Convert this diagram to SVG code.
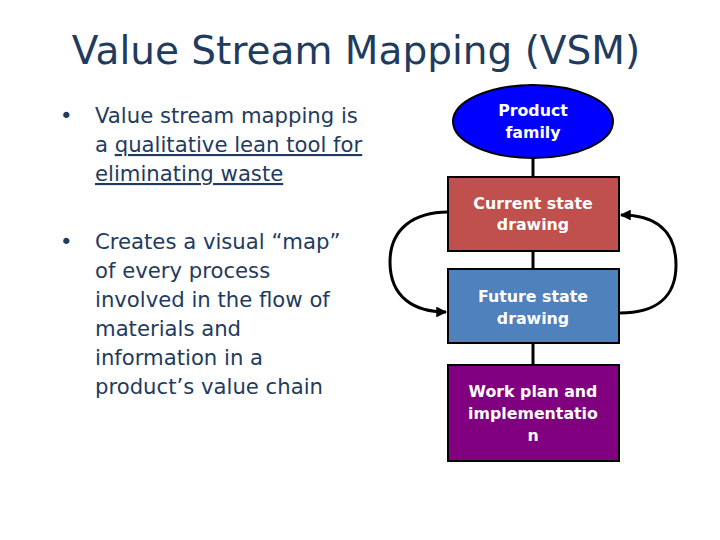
<svg xmlns="http://www.w3.org/2000/svg" width="720" height="540" viewBox="0 0 720 540">
<defs>
<style>
.title{font-family:"DejaVu Sans",Verdana,sans-serif;font-size:39px;fill:#1F3B5E}
.body{font-family:"DejaVu Sans",Verdana,sans-serif;font-size:21.2px;fill:#1F3B5E}
.lbl{font-family:"DejaVu Sans",Verdana,sans-serif;font-size:15.8px;font-weight:bold;fill:#FFFFFF;text-anchor:middle}
.node{stroke:#000;stroke-width:2}
.conn{stroke:#000;stroke-width:3;fill:none}
</style>
<marker id="arr" viewBox="0 0 10 10" refX="9" refY="5" markerWidth="3.6" markerHeight="3.6" orient="auto" markerUnits="strokeWidth">
<path d="M0,0 L10,5 L0,10 z" fill="#000"/>
</marker>
</defs>
<rect width="720" height="540" fill="#fff"/>
<text class="title" x="356" y="64" text-anchor="middle">Value Stream Mapping (VSM)</text>
<g id="bullets">
<text class="body" x="60" y="123">•</text>
<text class="body" x="95" y="123">Value stream mapping is</text>
<text class="body" x="95" y="152">a <tspan text-decoration="underline">qualitative lean tool for</tspan></text>
<text class="body" x="95" y="181" text-decoration="underline">eliminating waste</text>
<text class="body" x="60" y="249">•</text>
<text class="body" x="95" y="249">Creates a visual “map”</text>
<text class="body" x="95" y="278">of every process</text>
<text class="body" x="95" y="307">involved in the flow of</text>
<text class="body" x="95" y="336">materials and</text>
<text class="body" x="95" y="365">information in a</text>
<text class="body" x="95" y="394">product’s value chain</text>
</g>
<g id="connectors">
<line class="conn" x1="533" y1="158" x2="533" y2="177"/>
<line class="conn" x1="533" y1="251" x2="533" y2="269"/>
<line class="conn" x1="533" y1="343" x2="533" y2="365"/>
<path class="conn" d="M448,212 C415,212 390,228 390,262 C390,298 415,312 446,312" marker-end="url(#arr)"/>
<path class="conn" d="M620,313 C655,313 676,298 676,265 C676,230 655,215 621,215" marker-end="url(#arr)"/>
</g>
<g id="product-family">
<ellipse class="node" cx="533" cy="121.5" rx="80" ry="36.5" fill="#0000FF"/>
<text class="lbl" x="533" y="116">Product</text>
<text class="lbl" x="533" y="138">family</text>
</g>
<g id="current-state">
<rect class="node" x="448" y="177" width="171" height="74" fill="#C0504D"/>
<text class="lbl" x="533" y="209">Current state</text>
<text class="lbl" x="533" y="230">drawing</text>
</g>
<g id="future-state">
<rect class="node" x="448" y="269" width="171" height="74" fill="#4F81BD"/>
<text class="lbl" x="533" y="302">Future state</text>
<text class="lbl" x="533" y="324">drawing</text>
</g>
<g id="work-plan">
<rect class="node" x="448" y="365" width="171" height="96" fill="#800080"/>
<text class="lbl" x="533" y="397">Work plan and</text>
<text class="lbl" x="533" y="419">implementatio</text>
<text class="lbl" x="533" y="441">n</text>
</g>
</svg>
